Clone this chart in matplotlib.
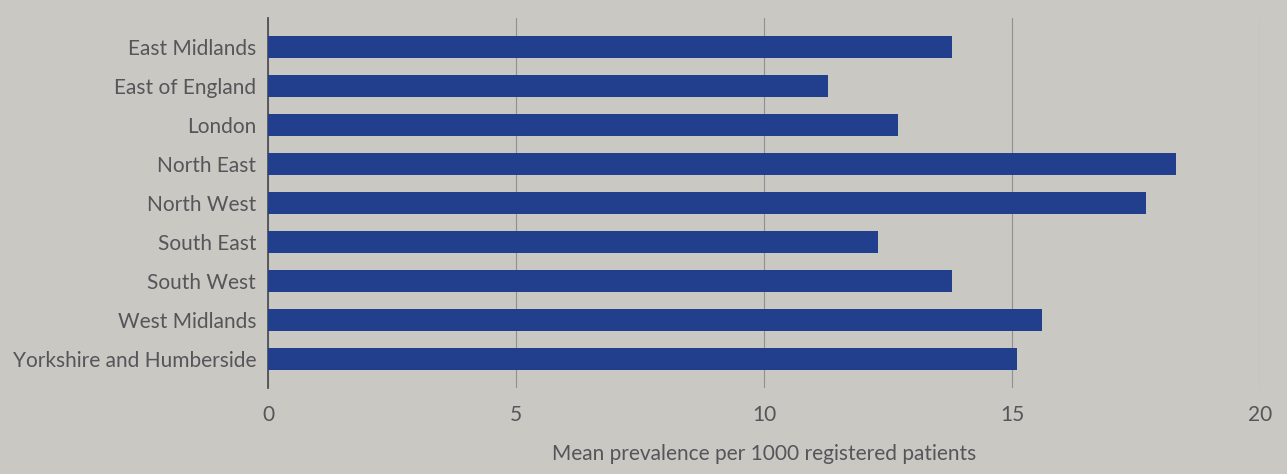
import matplotlib.pyplot as plt

# === Data ===
regions = ["East Midlands", "East of England", "London", "North East", "North West",
           "South East", "South West", "West Midlands", "Yorkshire and Humberside"]
prevalence = [13.8, 11.3, 12.7, 18.3, 17.7, 12.3, 13.8, 15.6, 15.1]
x_ticks = [0, 5, 10, 15, 20]

bg = "#c9c8c3"
bar_color = "#213f8c"
text_color = "#55555a"

plt.rcParams['font.family'] = ['Lato', 'DejaVu Sans']

fig = plt.figure(figsize=(12.87, 4.74), dpi=100, facecolor=bg)
ax = fig.add_axes([0.2082, 0.1814, 0.7708, 0.7806], facecolor=bg)

ax.barh(range(len(regions)), prevalence, height=0.57, color=bar_color, zorder=3)

ax.set_xlim(0, 20)
ax.set_ylim(8.75, -0.75)
ax.set_yticks(range(len(regions)))
ax.set_yticklabels(regions, fontsize=15, color=text_color)
ax.set_xticks(x_ticks)
ax.set_xticklabels([str(t) for t in x_ticks], fontsize=15, color=text_color)
ax.tick_params(length=0)
ax.tick_params(axis='y', pad=8.5)
ax.tick_params(axis='x', pad=12)

ax.grid(axis='x', color="#909092", linewidth=0.8, zorder=1)
for s in ["top", "right", "bottom"]:
    ax.spines[s].set_visible(False)
ax.spines["left"].set_color("#505058")
ax.spines["left"].set_linewidth(1.3)

ax.set_xlabel("Mean prevalence per 1000 registered patients", fontsize=15,
              color=text_color, labelpad=14)

fig.savefig("out.png", facecolor=bg)
